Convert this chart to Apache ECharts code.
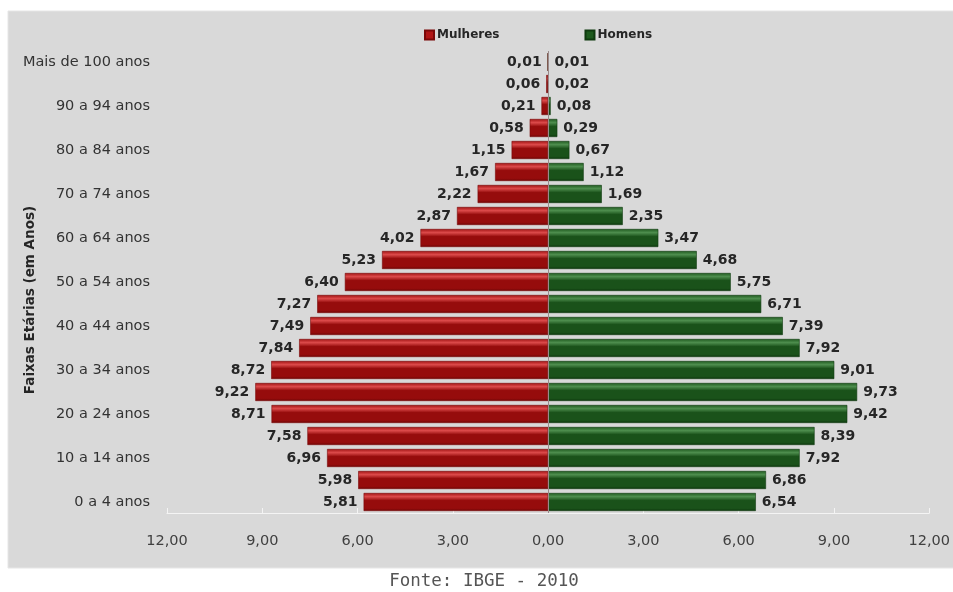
<!DOCTYPE html>
<html>
<head>
<meta charset="utf-8">
<script src="https://cdn.jsdelivr.net/npm/echarts@6/dist/echarts.min.js"></script>
<style>
  html, body { margin: 0; padding: 0; background: #ffffff; }
  #chart { width: 953px; height: 592px; }
</style>
</head>
<body>
<div id="chart"></div>
<script>
// Faixas etárias, da mais jovem para a mais velha
const faixas = [
  '0 a 4 anos', '5 a 9 anos', '10 a 14 anos', '15 a 19 anos', '20 a 24 anos',
  '25 a 29 anos', '30 a 34 anos', '35 a 39 anos', '40 a 44 anos', '45 a 49 anos',
  '50 a 54 anos', '55 a 59 anos', '60 a 64 anos', '65 a 69 anos', '70 a 74 anos',
  '75 a 79 anos', '80 a 84 anos', '85 a 89 anos', '90 a 94 anos', '95 a 99 anos',
  'Mais de 100 anos'
];

// Percentual da população por sexo
const mulheres = [5.81, 5.98, 6.96, 7.58, 8.71, 9.22, 8.72, 7.84, 7.49, 7.27,
                  6.40, 5.23, 4.02, 2.87, 2.22, 1.67, 1.15, 0.58, 0.21, 0.06, 0.01];
const homens   = [6.54, 6.86, 7.92, 8.39, 9.42, 9.73, 9.01, 7.92, 7.39, 6.71,
                  5.75, 4.68, 3.47, 2.35, 1.69, 1.12, 0.67, 0.29, 0.08, 0.02, 0.01];

const xMin = -12, xMax = 12, xStep = 3;

const fmt = v => Math.abs(v).toFixed(2).replace('.', ',');
const FONT = '"DejaVu Sans", Verdana, sans-serif';

// Cylinder-like shading for the bars
function shade(top, hi, body, bottom) {
  return new echarts.graphic.LinearGradient(0, 0, 0, 1, [
    { offset: 0, color: top },
    { offset: 0.2, color: hi },
    { offset: 0.42, color: body },
    { offset: 0.85, color: body },
    { offset: 1, color: bottom }
  ]);
}

const chart = echarts.init(document.getElementById('chart'), null, { renderer: 'canvas' });

chart.setOption({
  backgroundColor: '#ffffff',
  animation: false,
  graphic: [
    {
      type: 'rect', z: -10, silent: true,
      shape: { x: 8, y: 11, width: 960, height: 557 },
      style: { fill: '#d9d9d9', stroke: '#e6e6e6', lineWidth: 1 }
    },
    {
      type: 'text', silent: true,
      x: 30, y: 300, rotation: Math.PI / 2,
      style: {
        text: 'Faixas Etárias (em Anos)',
        font: 'bold 13.5px ' + FONT, fill: '#262626',
        align: 'center', verticalAlign: 'middle'
      }
    },
    {
      type: 'text', silent: true,
      x: 484, y: 581,
      style: {
        text: 'Fonte: IBGE - 2010',
        font: '17.5px "DejaVu Sans Mono", "Liberation Mono", monospace', fill: '#555555',
        align: 'center', verticalAlign: 'middle'
      }
    }
  ],
  legend: {
    top: 24,
    left: 419,
    itemGap: 85,
    itemWidth: 9,
    itemHeight: 9,
    icon: 'rect',
    textStyle: { fontFamily: FONT, fontWeight: 'bold', fontSize: 12, color: '#262626', padding: [0, 0, 0, -2] },
    data: [
      { name: 'Mulheres', itemStyle: { color: '#b01515' } },
      { name: 'Homens', itemStyle: { color: '#1d5a1d' } }
    ]
  },
  grid: { left: 167, right: 23, top: 51, bottom: 79, containLabel: false },
  xAxis: {
    type: 'value',
    min: xMin, max: xMax, interval: xStep,
    axisLine: { show: true, lineStyle: { color: '#f4f4f4', width: 1 } },
    axisTick: { show: true, inside: true, length: 5, lineStyle: { color: '#f4f4f4' } },
    splitLine: { show: false },
    axisLabel: {
      formatter: fmt, margin: 21,
      fontFamily: FONT, fontSize: 14.5, color: '#404040'
    }
  },
  yAxis: {
    type: 'category',
    data: faixas,
    axisLine: { show: false },
    axisTick: { show: false },
    axisLabel: {
      interval: 1, margin: 17,
      fontFamily: FONT, fontSize: 14.5, color: '#333333'
    }
  },
  series: [
    {
      name: 'Mulheres',
      type: 'bar',
      stack: 'pir',
      barWidth: '82%',
      data: mulheres.map(v => -v),
      itemStyle: {
        color: shade('#a01212', '#dc4a4a', '#960c0c', '#6e0606'),
        borderColor: '#7a0808', borderWidth: 0.6
      },
      label: {
        show: true, position: 'left', distance: 6,
        formatter: p => fmt(p.value),
        fontFamily: FONT, fontWeight: 'bold', fontSize: 14, color: '#262626'
      },
      markLine: {
        silent: true, symbol: 'none', label: { show: false },
        lineStyle: { color: '#9a8a8a', width: 1, type: 'solid' },
        data: [{ xAxis: 0 }]
      }
    },
    {
      name: 'Homens',
      type: 'bar',
      stack: 'pir',
      barWidth: '82%',
      data: homens,
      itemStyle: {
        color: shade('#1e5a1e', '#4e8e4e', '#1a521a', '#0c360c'),
        borderColor: '#0f3a0f', borderWidth: 0.6
      },
      label: {
        show: true, position: 'right', distance: 6,
        formatter: p => fmt(p.value),
        fontFamily: FONT, fontWeight: 'bold', fontSize: 14, color: '#262626'
      }
    }
  ]
});
</script>
</body>
</html>
